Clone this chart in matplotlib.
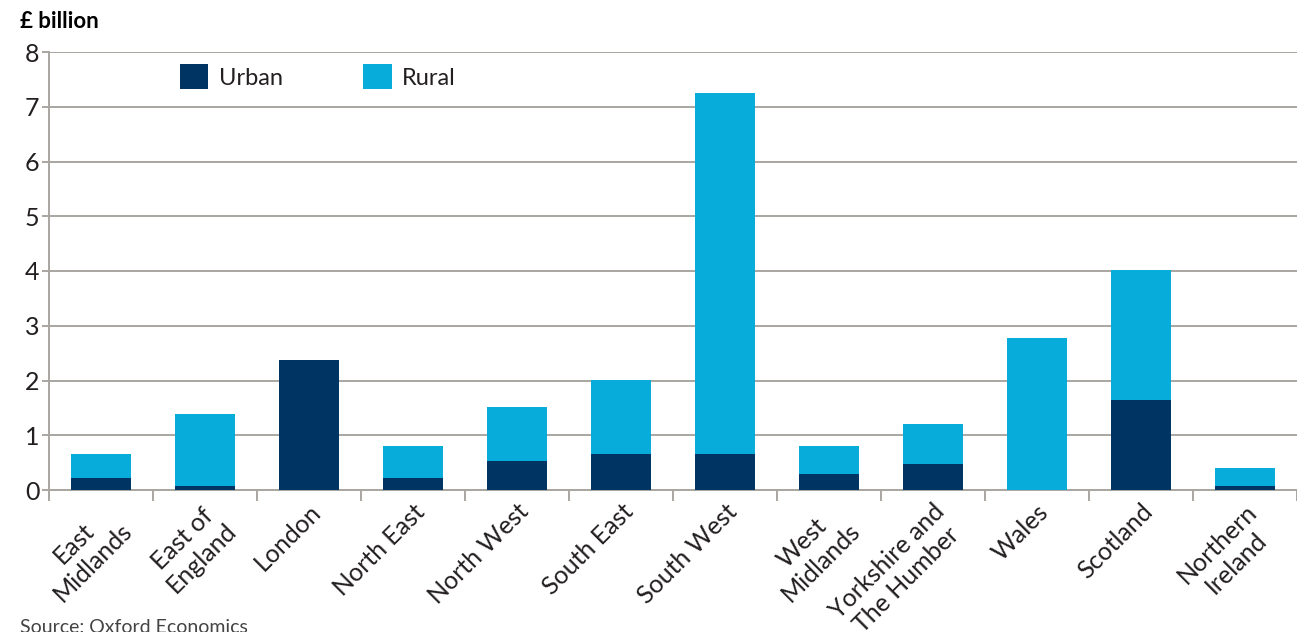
import matplotlib.pyplot as plt
import numpy as np

regions = ["East\nMidlands", "East of\nEngland", "London", "North East", "North West",
           "South East", "South West", "West\nMidlands", "Yorkshire and\nThe Humber",
           "Wales", "Scotland", "Northern\nIreland"]
urban = [0.22, 0.07, 2.37, 0.22, 0.53, 0.66, 0.66, 0.29, 0.48, 0.0, 1.64, 0.07]
total = [0.66, 1.39, 2.37, 0.80, 1.52, 2.01, 7.25, 0.80, 1.21, 2.78, 4.02, 0.40]
rural = [t - u for t, u in zip(total, urban)]

URBAN = "#003462"
RURAL = "#07ACDB"
GRID = "#A9A6A1"
TXT = "#231F20"

plt.rcParams["font.family"] = ["Lato", "DejaVu Sans"]

fig = plt.figure(figsize=(12.97, 6.32), dpi=100)
ax = fig.add_axes([49 / 1297, 1 - 490 / 632, 1 - 49 / 1297, (490 - 52) / 632])

x = np.arange(len(regions))
w = 0.575
ax.bar(x, urban, w, color=URBAN, label="Urban", zorder=3)
ax.bar(x, rural, w, bottom=urban, color=RURAL, label="Rural", zorder=3)

ax.set_ylim(0, 8)
ax.set_xlim(-0.5, 11.43)
ax.set_yticks(range(0, 9))
ax.yaxis.grid(True, color=GRID, lw=1.4, zorder=0)
ax.set_axisbelow(True)

for s in ["top", "right"]:
    ax.spines[s].set_visible(False)
for s in ["left", "bottom"]:
    ax.spines[s].set_color(GRID)
    ax.spines[s].set_linewidth(1.4)

ax.tick_params(axis="y", color=GRID, length=5, width=1.4, labelcolor=TXT,
               labelsize=18, pad=2)
ax.set_xticks(x)
ax.set_xticklabels(regions, rotation=45, ha="right", va="top",
                   rotation_mode="anchor", fontsize=18,
                   multialignment="center")
ax.tick_params(axis="x", which="major", length=0, pad=7, labelcolor=TXT)
ax.set_xticks(np.arange(-0.5, 12, 1.0), minor=True)
ax.tick_params(axis="x", which="minor", length=8, width=1.4, color=GRID)

leg = ax.legend(loc="upper left", bbox_to_anchor=(0.088, 1.02), ncol=2, frameon=False,
                fontsize=17, handlelength=1.2, handleheight=1.2,
                columnspacing=3.4, handletextpad=0.45)
for t in leg.get_texts():
    t.set_color(TXT)

fig.text(20 / 1297, 1 - 22 / 632, "£ billion", fontsize=16, fontweight="bold",
         color="black", va="center", ha="left")
fig.text(20 / 1297, 1 - 619 / 632, "Source: Oxford Economics", fontsize=14,
         color="#444444", va="top", ha="left")

fig.savefig("out.png", dpi=100)
